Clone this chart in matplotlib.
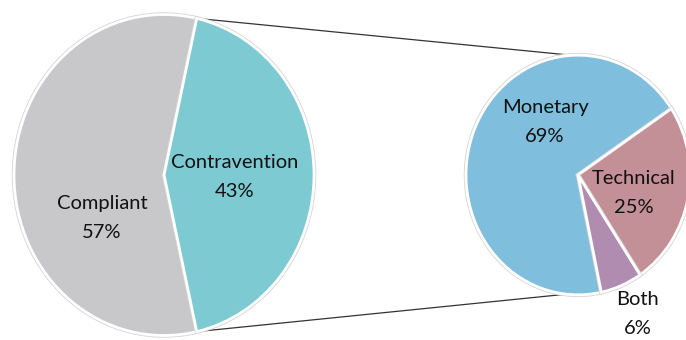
import numpy as np
import matplotlib
matplotlib.use("Agg")
import matplotlib.pyplot as plt
import matplotlib.patheffects as pe

# main pie
main_labels = ["Compliant", "Contravention"]
main_values = [57, 43]
main_colors = ["#C8C8CA", "#7ECAD3"]

# breakdown of contraventions
sub_labels = ["Monetary", "Technical", "Both"]
sub_values = [69, 25, 6]
sub_colors = ["#7FBEDD", "#C49097", "#B08CB1"]

W, H = 686, 340
K = 1.07  # vertical stretch of the original picture


def py(y):
    # pixel row -> data y
    return (H - y) / K


fig = plt.figure(figsize=(W / 100, H / 100), dpi=100)
ax = fig.add_axes([0, 0, 1, 1])

edge = dict(edgecolor="white", linewidth=2,
            path_effects=[pe.Stroke(linewidth=3.2, foreground="#d4d4d4"), pe.Normal()])

c1 = (164, py(175))
r1 = 150
start1 = main_values[1] / sum(main_values) * 360 / 2
w1, _ = ax.pie(main_values, colors=main_colors, center=c1, radius=r1,
               startangle=start1, explode=[0, 0.025], wedgeprops=edge, frame=True)

c2 = (578, py(175))
r2 = 112
w2, _ = ax.pie(sub_values, colors=sub_colors, center=c2, radius=r2,
               startangle=-78, counterclock=False, explode=[0, 0.05, 0.03],
               wedgeprops=edge, frame=True)

# connector lines
wc = w1[1]
a_top = np.deg2rad(wc.theta2)
a_bot = np.deg2rad(wc.theta1)
cx, cy = wc.center
p_top = (cx + r1 * np.cos(a_top), cy + r1 * np.sin(a_top))
p_bot = (cx + r1 * np.cos(a_bot), cy + r1 * np.sin(a_bot))
q_top = (c2[0] + r2 * np.cos(np.deg2rad(93)), c2[1] + r2 * np.sin(np.deg2rad(93)))
q_bot = (c2[0] + r2 * np.cos(np.deg2rad(264)), c2[1] + r2 * np.sin(np.deg2rad(264)))
ax.plot([p_top[0], q_top[0]], [p_top[1], q_top[1]], color="#333333", lw=0.9, zorder=0)
ax.plot([p_bot[0], q_bot[0]], [p_bot[1], q_bot[1]], color="#333333", lw=0.9, zorder=0)

# labels
font = dict(family=["Lato", "DejaVu Sans"], fontsize=14.5, ha="center", va="center",
            linespacing=1.85, color="#111111")
label_pos = {"Compliant": (102, 218), "Contravention": (235, 177),
             "Monetary": (545, 122), "Technical": (634, 193), "Both": (638, 314)}
for lab, val in zip(main_labels + sub_labels, main_values + sub_values):
    x, y = label_pos[lab]
    ax.text(x, py(y), f"{lab}\n{val}%", **font)

ax.set_aspect("auto")
ax.set_xlim(0, W)
ax.set_ylim(0, H / K)
ax.axis("off")

fig.savefig("out.png", dpi=100)
